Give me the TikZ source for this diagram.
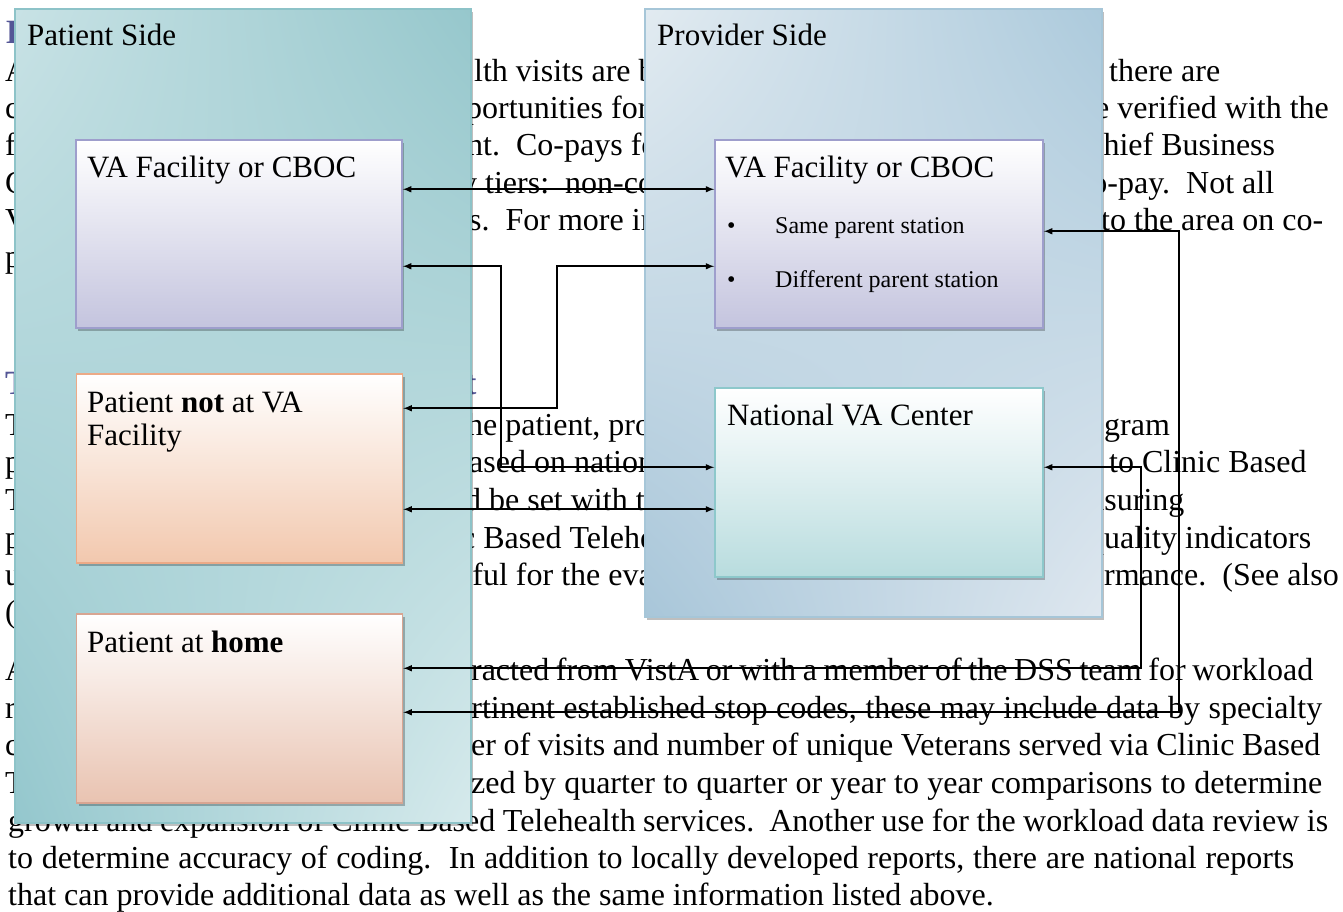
\documentclass[tikz,border=0pt]{standalone}
\usepackage{fontspec}
\setmainfont{Liberation Serif}
\usetikzlibrary{shadows,shadings}

\definecolor{headblue}{RGB}{84,86,150}
\definecolor{patline}{RGB}{141,195,200}
\definecolor{provline}{RGB}{166,198,216}
\definecolor{valine}{RGB}{158,158,204}
\definecolor{vabot}{RGB}{196,196,222}
\definecolor{pchline}{RGB}{236,170,135}
\definecolor{pchbot}{RGB}{242,200,174}
\definecolor{homeline}{RGB}{216,165,146}
\definecolor{homebot}{RGB}{233,195,177}
\definecolor{natline}{RGB}{141,200,203}
\definecolor{natbot}{RGB}{184,220,222}

\tikzset{
  txt/.style={anchor=base west, inner sep=0pt, font=\fontsize{32}{38}\selectfont},
  hdg/.style={txt, text=headblue, font=\fontsize{34}{40}\selectfont\bfseries},
  lbl/.style={anchor=base west, inner sep=0pt, font=\fontsize{31}{36}\selectfont},
  item/.style={anchor=base west, inner sep=0pt, font=\fontsize{24}{28}\selectfont},
  boxshadow/.style={drop shadow={shadow xshift=2pt, shadow yshift=-3pt, fill=black, opacity=0.25}},
  patpanel/.style={draw=patline, line width=1.5pt, boxshadow,
    upper left={rgb,255:red,200;green,226;blue,229}, upper right={rgb,255:red,150;green,199;blue,204},
    lower left={rgb,255:red,148;green,199;blue,205}, lower right={rgb,255:red,214;green,234;blue,236}},
  provpanel/.style={draw=provline, line width=1.5pt, boxshadow,
    upper left={rgb,255:red,226;green,235;blue,241}, upper right={rgb,255:red,172;green,202;blue,220},
    lower left={rgb,255:red,168;green,198;blue,217}, lower right={rgb,255:red,222;green,231;blue,239}},
  vabox/.style={draw=valine, line width=1.5pt, top color=white, bottom color=vabot, boxshadow,
    minimum width=326pt, minimum height=188pt},
  pchbox/.style={draw=pchline, line width=1.5pt, top color=white, bottom color=pchbot, boxshadow,
    minimum width=326pt, minimum height=189pt},
  homebox/.style={pchbox, draw=homeline, bottom color=homebot},
  natbox/.style={draw=natline, line width=1.5pt, top color=white, bottom color=natbot, boxshadow,
    minimum width=328pt, minimum height=189pt},
  conn/.style={<->, line width=1.9pt}
}

\begin{document}
\begin{tikzpicture}[x=1pt,y=-1pt,>=latex]
\useasboundingbox[fill=white] (0,0) rectangle (1343,911);

% page text behind the diagram
\node[hdg] at (6,43) {B};
\node[txt] at (5,81) {A};
\node[txt] at (474,81) {lth visits are b};
\node[txt] at (1109,81) {there are};
\node[txt] at (5,118) {c};
\node[txt] at (466,118) {portunities for};
\node[txt] at (1095,118) {e verified with the};
\node[txt] at (5,155) {f};
\node[txt] at (467,155) {nt.\ \ Co-pays for};
\node[txt] at (1082,155) {Chief Business};
\node[txt] at (5,193) {C};
\node[txt] at (461,193) {y tiers:\ \ non-co};
\node[txt] at (1077,193) {co-pay.\ \ Not all};
\node[txt] at (5,230) {V};
\node[txt] at (469,230) {s.\ \ For more inf};
\node[txt] at (1101,230) {to the area on co-};
\node[txt] at (5,267) {p};

\node[hdg] at (5,394) {T};
\node[hdg] at (465,394) {t};
\node[txt] at (5,435) {T};
\node[txt] at (458,435) {the patient, prov};
\node[txt] at (1088,435) {ogram};
\node[txt] at (5,472) {p};
\node[txt] at (453,472) {based on nationa};
\node[txt] at (1109,472) {to Clinic Based};
\node[txt] at (5,510) {T};
\node[txt] at (456,510) {ld be set with th};
\node[txt] at (1090,510) {asuring};
\node[txt] at (5,548) {p};
\node[txt] at (452,548) {ic Based Telehea};
\node[txt] at (1088,548) {quality indicators};
\node[txt] at (5,585) {u};
\node[txt] at (458,585) {eful for the eval};
\node[txt] at (1088,585) {ormance.\ \ (See also};
\node[txt] at (5,622) {(};

\node[txt] at (5,680) {A};
\node[txt] at (462,680) {\makebox[851pt][s]{tracted from VistA or with a member of the DSS team for workload}};
\node[txt] at (5,718) {r};
\node[txt] at (457,718) {\makebox[865pt][s]{ertinent established stop codes, these may include data by specialty}};
\node[txt] at (5,755) {c};
\node[txt] at (455,755) {\makebox[865pt][s]{ber of visits and number of unique Veterans served via Clinic Based}};
\node[txt] at (5,793) {T};
\node[txt] at (462,793) {\makebox[860pt][s]{ized by quarter to quarter or year to year comparisons to determine}};
\node[txt] at (8,831) {\makebox[1320pt][s]{growth and expansion of Clinic Based Telehealth services.\ \ Another use for the workload data review is}};
\node[txt] at (8,868) {\makebox[1286pt][s]{to determine accuracy of coding.\ \ In addition to locally developed reports, there are national reports}};
\node[txt] at (8,905) {that can provide additional data as well as the same information listed above.};

% the two sides
\node[patpanel, minimum width=456pt, minimum height=814pt] (pside) at (243,416) {};
\node[provpanel, minimum width=457pt, minimum height=608pt] (prside) at (873.5,313) {};
\node[lbl] at (27,45) {Patient Side};
\node[lbl] at (657,45) {Provider Side};

% boxes
\node[vabox] (pva) at (239,234) {};
\node[vabox, minimum width=328pt] (prva) at (879,234) {};
\node[pchbox] (pnot) at (239.5,468.5) {};
\node[natbox] (nvc) at (879,482.5) {};
\node[homebox] (home) at (239.5,708.5) {};

\node[lbl] at (87,177) {VA Facility or CBOC};
\node[lbl] at (725,177) {VA Facility or CBOC};
\node[item] at (727,233) {\textbullet};
\node[item] at (775,233) {Same parent station};
\node[item] at (727,287) {\textbullet};
\node[item] at (775,287) {Different parent station};
\node[lbl] at (87,412) {Patient \textbf{not} at VA};
\node[lbl] at (87,445) {Facility};
\node[lbl] at (727,425) {National VA Center};
\node[lbl] at (87,652) {Patient at \textbf{home}};

% connectors
\draw[conn] ([yshift=-50pt]pva.north east) -- ([yshift=-50pt]prva.north west);
\draw[conn] ([yshift=-127pt]pva.north east) -- ++(98,0) |- ([yshift=-80pt]nvc.north west);
\draw[conn] ([yshift=-127pt]prva.north west) -- ++(-157,0) |- ([yshift=-35pt]pnot.north east);
\draw[conn] ([yshift=-136pt]pnot.north east) -- ([yshift=-122pt]nvc.north west);
\draw[conn] ([yshift=-80pt]nvc.north east) -- ++(97,0) |- ([yshift=-55pt]home.north east);
\draw[conn] ([yshift=-92pt]prva.north east) -- ++(135,0) |- ([yshift=-99pt]home.north east);
\end{tikzpicture}
\end{document}
